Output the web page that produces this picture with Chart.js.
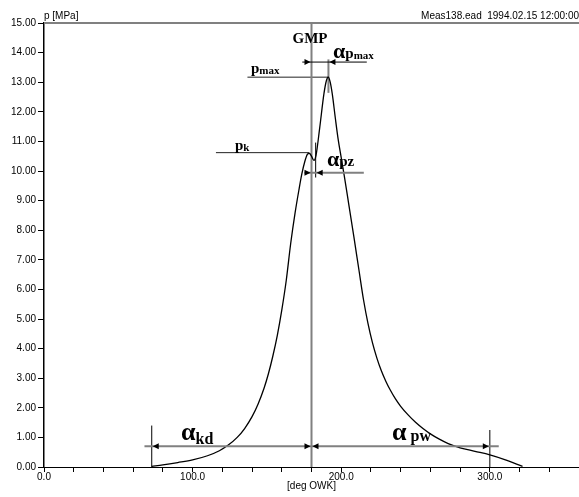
<!DOCTYPE html>
<html>
<head>
<meta charset="utf-8">
<script src="https://cdn.jsdelivr.net/npm/chart.js@4.4.0/dist/chart.umd.min.js"></script>
<style>
    html, body { margin: 0; padding: 0; background: #fff; }
    canvas { display: block; }
</style>
</head>
<body>
<canvas id="pressureChart" width="579" height="497"></canvas>
<script>
// cylinder pressure trace (deg crank angle / MPa)
const crankAngle = [72.5, 80, 90, 100, 110, 118, 124, 130, 135, 140, 144, 148, 151, 154, 157, 160, 163, 166, 169, 171.5, 173.5, 175.5, 177.2, 178.5, 180, 181.6, 183, 185.5, 188.4, 190, 191.3, 192.5, 194, 196, 198, 200, 202, 205, 208.5, 212, 215, 218, 221, 224, 227, 230, 233, 236.5, 240, 245, 250, 255, 260, 266, 272, 280, 290, 300, 310, 322];
const pressure   = [0.02, 0.07, 0.15, 0.24, 0.38, 0.55, 0.74, 1.0, 1.3, 1.7, 2.12, 2.65, 3.15, 3.75, 4.45, 5.3, 6.3, 7.55, 8.6, 9.35, 9.9, 10.32, 10.56, 10.6, 10.5, 10.36, 10.52, 11.45, 12.62, 13.05, 13.17, 13.02, 12.6, 11.8, 11.05, 10.45, 9.85, 8.9, 7.78, 6.63, 5.65, 4.85, 4.2, 3.68, 3.25, 2.9, 2.6, 2.3, 2.05, 1.76, 1.51, 1.3, 1.12, 0.94, 0.79, 0.65, 0.53, 0.41, 0.25, 0.02];

const xLabelValues = [0, 100, 200, 300];
const xRange = [0, 360];
const yRange = [0, 15];

// characteristic points
const gmpAngle = 180;
const kdStartAngle = 72.5;
const pwEndAngle = 300;
const ignitionAngle = 182.8;
const pk = [178.3, 10.62];
const pmax = [191.4, 13.17];

// helper lines [x1, y1, x2, y2]
const frameLine  = [0, 15, 360, 15];
const gmpLine    = [gmpAngle, 0, gmpAngle, 15];
const kdLine     = [kdStartAngle, 0, kdStartAngle, 1.4];
const pwLine     = [pwEndAngle, 0, pwEndAngle, 1.25];
const pkLine     = [115.7, pk[1], pk[0], pk[1]];
const pmaxLine   = [136.9, pmax[1], pmax[0], pmax[1]];
const pmaxMark   = [pmax[0], 12.64, pmax[0], 13.77];
const pzMark     = [ignitionAngle, 9.78, ignitionAngle, 10.96];

// dimension arrows: y, line from/to, head tips [x, direction]
const dimArrows = [
    { name: 'kd',   y: 0.70,  from: 67.6,  to: 180,   tips: [[kdStartAngle, -1], [gmpAngle, 1]] },
    { name: 'pw',   y: 0.70,  from: 180,   to: 306,   tips: [[gmpAngle, -1], [pwEndAngle, 1]] },
    { name: 'pz',   y: 9.94,  from: 175.2, to: 215.2, tips: [[gmpAngle, 1], [ignitionAngle, -1]] },
    { name: 'pmax', y: 13.68, from: 173.8, to: 217.2, tips: [[gmpAngle, 1], [pmax[0], -1]] }
];

// annotation texts: anchor [x, y] in data units, pieces of text
const annotations = [
    { at: [179, 14.32],   align: 'center', parts: [['GMP', 'big']] },
    { at: [194.5, 13.82], parts: [['α', 'alpha'], ['p', 'sym'], ['max', 'sub']] },
    { at: [139.3, 13.31], parts: [['p', 'sym'], ['max', 'sub']] },
    { at: [128.5, 10.71], parts: [['p', 'sym'], ['k', 'sub']] },
    { at: [190.4, 10.17], parts: [['α', 'alpha'], ['pz', 'sym']] },
    { at: [92.2, 0.9],    parts: [['α', 'alphaBig'], ['kd', 'subBig']] },
    { at: [234.2, 0.9],   parts: [['α', 'alphaBig'], [' pw', 'symBig']] }
];

const axisFont = { family: 'Liberation Sans, Arial, sans-serif', size: 10 };
const textStyles = {
    big:      { font: 'bold 15px "Liberation Serif"', dy: 0 },
    alpha:    { font: 'bold 22px "Liberation Serif"', dy: 0 },
    alphaBig: { font: 'bold 26px "Liberation Serif"', dy: 0 },
    sym:      { font: 'bold 15px "Liberation Serif"', dy: 0 },
    sub:      { font: 'bold 11px "Liberation Serif"', dy: 1 },
    subBig:   { font: 'bold 16px "Liberation Serif"', dy: 4 },
    symBig:   { font: 'bold 16px "Liberation Serif"', dy: 1 }
};

function seg(s) {
    return [{ x: s[0], y: s[1] }, { x: s[2], y: s[3] }];
}

function lineSet(s, color, width) {
    return { data: seg(s), borderColor: color, borderWidth: width, pointRadius: 0, showLine: true, clip: false };
}

const decorPlugin = {
    id: 'decor',
    afterDatasetsDraw(chart) {
        const ctx = chart.ctx;
        const xs = chart.scales.x;
        const ys = chart.scales.y;
        const area = chart.chartArea;
        ctx.save();

        // dimension arrows
        dimArrows.forEach(a => {
            const py = ys.getPixelForValue(a.y);
            ctx.strokeStyle = a.name === 'pmax' ? '#000' : '#808080';
            ctx.lineWidth = a.name === 'pmax' ? 1 : 2;
            ctx.beginPath();
            ctx.moveTo(xs.getPixelForValue(a.from), py);
            ctx.lineTo(xs.getPixelForValue(a.to), py);
            ctx.stroke();
            ctx.fillStyle = '#000';
            a.tips.forEach(([tx, dir]) => {
                const px = xs.getPixelForValue(tx) - dir * 1;
                ctx.beginPath();
                ctx.moveTo(px, py);
                ctx.lineTo(px - dir * 6, py - 3);
                ctx.lineTo(px - dir * 6, py + 3);
                ctx.closePath();
                ctx.fill();
            });
        });

        // annotation texts
        ctx.fillStyle = '#000';
        ctx.textBaseline = 'alphabetic';
        annotations.forEach(a => {
            let px = xs.getPixelForValue(a.at[0]);
            const py = ys.getPixelForValue(a.at[1]);
            if (a.align === 'center') {
                let w = 0;
                a.parts.forEach(([t, s]) => { ctx.font = textStyles[s].font; w += ctx.measureText(t).width; });
                px -= w / 2;
            }
            ctx.textAlign = 'left';
            a.parts.forEach(([t, s]) => {
                ctx.font = textStyles[s].font;
                ctx.fillText(t, px, py + textStyles[s].dy);
                px += ctx.measureText(t).width;
            });
        });

        // header texts
        ctx.font = '10px "Liberation Sans", Arial, sans-serif';
        ctx.textBaseline = 'bottom';
        ctx.textAlign = 'left';
        ctx.fillText('p [MPa]', area.left, area.top - 2);
        ctx.textAlign = 'right';
        ctx.fillText('Meas138.ead  1994.02.15 12:00:00', chart.width, area.top - 2);
        ctx.restore();
    }
};

new Chart(document.getElementById('pressureChart'), {
    type: 'scatter',
    data: {
        datasets: [
            {
                label: 'p',
                data: crankAngle.map((a, i) => ({ x: a, y: pressure[i] })),
                borderColor: '#000',
                borderWidth: 1.3,
                pointRadius: 0,
                showLine: true,
                cubicInterpolationMode: 'monotone',
                clip: false
            },
            lineSet(frameLine, '#808080', 2),
            lineSet(gmpLine, '#808080', 2),
            lineSet(kdLine, '#000', 1),
            lineSet(pwLine, '#000', 1),
            lineSet(pkLine, '#222', 1),
            lineSet(pmaxLine, '#222', 1),
            lineSet(pmaxMark, '#808080', 2),
            lineSet(pzMark, '#000', 1)
        ]
    },
    options: {
        responsive: false,
        animation: false,
        events: [],
        layout: { padding: { top: 23, right: 0, left: 0, bottom: 0 } },
        plugins: {
            legend: { display: false },
            tooltip: { enabled: false }
        },
        scales: {
            x: {
                type: 'linear',
                min: xRange[0],
                max: xRange[1],
                afterFit(scale) { scale.height = 30; },
                afterBuildTicks(scale) {
                    const t = [];
                    for (let v = xRange[0]; v <= xRange[1]; v += 20) t.push({ value: v });
                    scale.ticks = t;
                },
                ticks: {
                    autoSkip: false,
                    maxRotation: 0,
                    padding: -1,
                    color: '#000',
                    font: axisFont,
                    callback: v => xLabelValues.includes(v) ? v.toFixed(1) : ''
                },
                grid: { drawOnChartArea: false, tickLength: 5, color: '#000' },
                border: { color: '#000', width: 1 },
                title: { display: true, text: '[deg OWK]', color: '#000', font: axisFont, padding: { top: 0, bottom: 5 } }
            },
            y: {
                min: yRange[0],
                max: yRange[1],
                afterFit(scale) { scale.width = 44; },
                ticks: {
                    stepSize: 1,
                    padding: 2,
                    color: '#000',
                    font: axisFont,
                    callback: v => v.toFixed(2)
                },
                grid: { drawOnChartArea: false, tickLength: 6, color: '#000' },
                border: { color: '#000', width: 1.5 }
            }
        }
    },
    plugins: [decorPlugin]
});
</script>
</body>
</html>
